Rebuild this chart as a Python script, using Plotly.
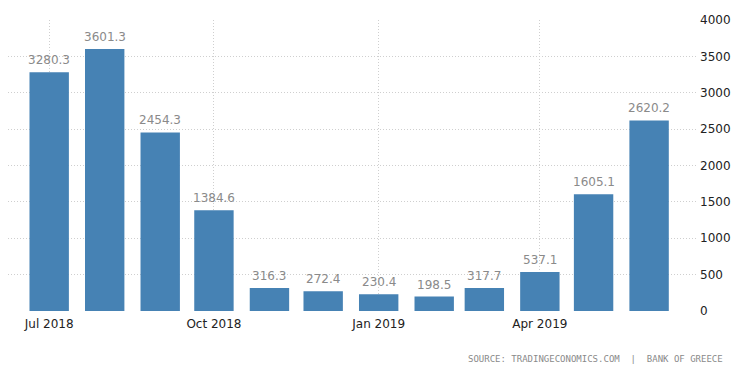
import plotly.graph_objects as go

months = ["2018-07-01", "2018-08-01", "2018-09-01", "2018-10-01", "2018-11-01", "2018-12-01",
          "2019-01-01", "2019-02-01", "2019-03-01", "2019-04-01", "2019-05-01", "2019-06-01"]
values = [3280.3, 3601.3, 2454.3, 1384.6, 316.3, 272.4, 230.4, 198.5, 317.7, 537.1, 1605.1, 2620.2]
labels = [f"{v:.1f}" for v in values]
tick_vals = ["2018-07-01", "2018-10-01", "2019-01-01", "2019-04-01"]
tick_text = ["Jul 2018", "Oct 2018", "Jan 2019", "Apr 2019"]
y_ticks = [0, 500, 1000, 1500, 2000, 2500, 3000, 3500, 4000]

fig = go.Figure(go.Bar(
    x=months, y=values,
    marker=dict(color="#4682B4", line=dict(width=0)),
    width=22 * 86400000,
))

annotations = [
    dict(x=m, y=v, text=t, xref="x", yref="y", showarrow=False,
         yanchor="bottom", yshift=3,
         font=dict(color="#8a8a8a", size=12, family="DejaVu Sans"))
    for m, v, t in zip(months, values, labels)
]
annotations.append(dict(
    text="SOURCE: TRADINGECONOMICS.COM  |  BANK OF GREECE",
    xref="paper", yref="paper", x=1.0406, y=-0.165, xanchor="right", yanchor="middle",
    showarrow=False, font=dict(size=9, color="#8a8a8a", family="DejaVu Sans Mono"),
))

fig.update_layout(
    width=742, height=365,
    margin=dict(l=0, r=53, t=12, b=62),
    paper_bgcolor="white", plot_bgcolor="white",
    showlegend=False,
    font=dict(family="DejaVu Sans", size=12, color="#333333"),
    xaxis=dict(
        type="date", range=["2018-06-08", "2019-06-27 18:00"],
        tickvals=tick_vals, ticktext=tick_text,
        showgrid=True, gridcolor="#cfcfcf", griddash="1px,2px", gridwidth=1,
        showline=False, zeroline=False, ticks="", ticklabelstandoff=4,
        tickfont=dict(size=12, color="#222222"),
    ),
    yaxis=dict(
        side="right", range=[0, 4000], tickvals=y_ticks,
        showgrid=True, gridcolor="#cfcfcf", griddash="1px,2px", gridwidth=1,
        zeroline=False, showline=False, ticks="", ticklabelstandoff=2,
        tickfont=dict(size=12, color="#222222"),
    ),
    annotations=annotations,
)

fig.write_html("out.html")
